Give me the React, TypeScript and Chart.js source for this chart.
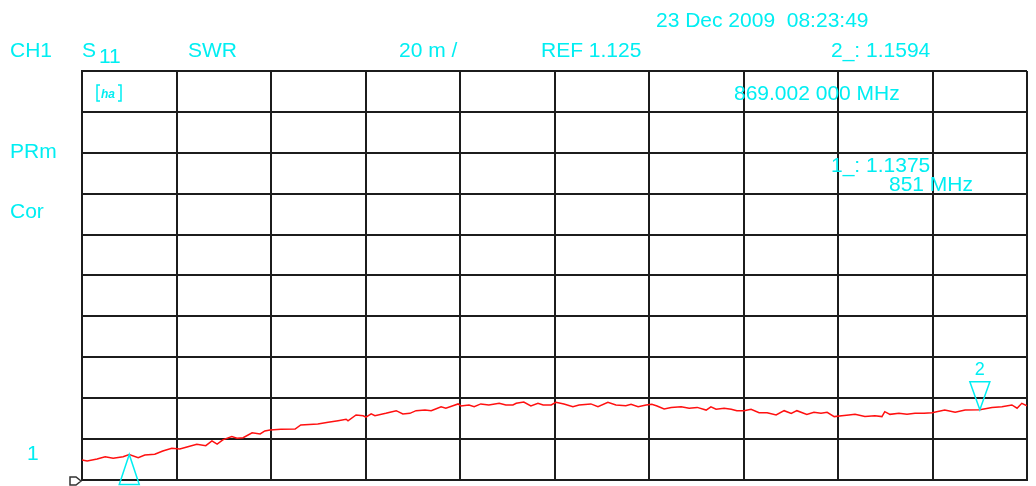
import { useEffect, useRef } from "react";
import { Chart, registerables } from "chart.js";

Chart.register(...registerables);

// Frequency (MHz) of each read trace point
const FREQ_MHZ = [
  850.0, 850.11, 850.32, 850.49, 850.66, 850.87, 851.0, 851.19, 851.33, 851.54,
  851.71, 851.9, 852.07, 852.24, 852.43, 852.62, 852.75, 852.86, 852.98, 853.17,
  853.28, 853.41, 853.6, 853.77, 853.87, 853.98, 854.21, 854.51, 854.63, 854.99,
  855.21, 855.42, 855.59, 855.63, 855.8, 855.95, 856.01, 856.12, 856.2, 856.43,
  856.65, 856.79, 856.94, 857.07, 857.26, 857.39, 857.47, 857.6, 857.7, 857.85,
  857.96, 858.02, 858.19, 858.3, 858.44, 858.61, 858.83, 858.97, 859.12, 859.19,
  859.35, 859.5, 859.65, 859.76, 859.93, 860.03, 860.2, 860.39, 860.52, 860.77,
  860.92, 861.13, 861.3, 861.51, 861.62, 861.77, 861.94, 862.06, 862.17, 862.32,
  862.47, 862.68, 862.85, 863.02, 863.21, 863.31, 863.42, 863.59, 863.74, 863.86,
  864.01, 864.16, 864.33, 864.5, 864.69, 864.86, 865.01, 865.13, 865.34, 865.49,
  865.64, 865.77, 865.92, 866.08, 866.23, 866.36, 866.57, 866.78, 866.93, 866.99,
  867.1, 867.29, 867.46, 867.63, 867.82, 867.99, 868.26, 868.48, 868.69, 869.002,
  869.26, 869.47, 869.68, 869.79, 869.89, 870.0,
];

// SWR value of each trace point
const SWR = [
  1.1348, 1.1343, 1.1353, 1.1364, 1.1356, 1.1364, 1.1375, 1.1359, 1.1372, 1.1376,
  1.1392, 1.1405, 1.1402, 1.1413, 1.1425, 1.1418, 1.1441, 1.1425, 1.1446, 1.1462,
  1.1454, 1.1457, 1.1481, 1.1475, 1.149, 1.1495, 1.1498, 1.1499, 1.1519, 1.1524,
  1.1532, 1.154, 1.1547, 1.1539, 1.1568, 1.1564, 1.1557, 1.1573, 1.1564, 1.1576,
  1.1589, 1.1573, 1.1576, 1.1589, 1.1592, 1.1589, 1.1596, 1.1608, 1.1601, 1.1613,
  1.1622, 1.1612, 1.1617, 1.1608, 1.1622, 1.1617, 1.1625, 1.1617, 1.1617, 1.1625,
  1.1631, 1.1612, 1.1625, 1.1617, 1.1617, 1.163, 1.1622, 1.1608, 1.1617, 1.1622,
  1.1608, 1.163, 1.1617, 1.1613, 1.162, 1.1608, 1.1617, 1.162, 1.1612, 1.1597,
  1.1605, 1.1608, 1.1601, 1.1605, 1.1592, 1.1608, 1.1596, 1.1601, 1.1596, 1.1589,
  1.1589, 1.1596, 1.1579, 1.1579, 1.1568, 1.1589, 1.1576, 1.1589, 1.1571, 1.1581,
  1.1576, 1.1581, 1.156, 1.1564, 1.1568, 1.1571, 1.156, 1.1564, 1.156, 1.1584,
  1.1571, 1.1576, 1.1571, 1.1576, 1.1576, 1.1579, 1.1592, 1.1581, 1.1592, 1.1594,
  1.1605, 1.1608, 1.1617, 1.1601, 1.1625, 1.1613,
];

const X_TICKS = [850, 852, 854, 856, 858, 860, 862, 864, 866, 868, 870];
const Y_TICKS = [1.125, 1.145, 1.165, 1.185, 1.205, 1.225, 1.245, 1.265, 1.285, 1.305, 1.325];
const REF_VALUE = 1.125;

const MARKER_FREQ = [851, 869.002];
const MARKER_SWR = [1.1375, 1.1594];
const MARKER_NAMES = ["1", "2"];

const TXT_DATE = "23 Dec 2009  08:23:49";
const TXT_CH = "CH1";
const TXT_S = "S";
const TXT_SUB = "11";
const TXT_FMT = "SWR";
const TXT_SCALE = "20 m /";
const TXT_REF = "REF 1.125";
const TXT_M2 = "2_: 1.1594";
const TXT_M2F = "869.002 000 MHz";
const TXT_M1 = "1_: 1.1375";
const TXT_M1F = "851 MHz";
const TXT_PRM = "PRm";
const TXT_COR = "Cor";
const TXT_REFPOS = "1";

const CYAN = "#00eef2";
const GRID = "#1c1c1c";
const FONT = '21px "Liberation Sans", Arial, sans-serif';

const overlay = {
  id: "overlay",
  afterDraw(chart: any) {
    const ctx = chart.ctx as CanvasRenderingContext2D;
    const xs = chart.scales.x;
    const ys = chart.scales.y;
    ctx.save();
    ctx.fillStyle = CYAN;
    ctx.font = FONT;
    ctx.textAlign = "left";
    ctx.textBaseline = "alphabetic";
    ctx.fillText(TXT_DATE, 656, 27);
    ctx.fillText(TXT_CH, 10, 57);
    ctx.fillText(TXT_S, 82, 57);
    ctx.fillText(TXT_SUB, 99, 63);
    ctx.fillText(TXT_FMT, 188, 57);
    ctx.fillText(TXT_SCALE, 399, 57);
    ctx.fillText(TXT_REF, 541, 57);
    ctx.fillText(TXT_M2, 831, 57);
    ctx.fillText(TXT_M2F, 734, 100);
    ctx.fillText(TXT_PRM, 10, 158);
    ctx.fillText(TXT_COR, 10, 218);
    ctx.fillText(TXT_M1, 831, 172);
    ctx.fillText(TXT_M1F, 889, 191);
    ctx.fillText(TXT_REFPOS, 27, 460);

    // hold icon
    ctx.strokeStyle = CYAN;
    ctx.lineWidth = 1.5;
    ctx.beginPath();
    ctx.moveTo(100, 85); ctx.lineTo(97, 85); ctx.lineTo(97, 101); ctx.lineTo(100, 101);
    ctx.moveTo(118, 85); ctx.lineTo(121, 85); ctx.lineTo(121, 101); ctx.lineTo(118, 101);
    ctx.stroke();
    ctx.font = 'italic bold 12px "Liberation Sans", Arial, sans-serif';
    ctx.fillText("ha", 101, 98);

    // markers
    ctx.lineWidth = 1.5;
    MARKER_FREQ.forEach((f, i) => {
      const px = xs.getPixelForValue(f);
      const py = ys.getPixelForValue(MARKER_SWR[i]);
      ctx.beginPath();
      if (i === 0) {
        ctx.moveTo(px, py);
        ctx.lineTo(px - 10, py + 30);
        ctx.lineTo(px + 10, py + 30);
      } else {
        ctx.moveTo(px, py);
        ctx.lineTo(px - 10, py - 28);
        ctx.lineTo(px + 10, py - 28);
      }
      ctx.closePath();
      ctx.stroke();
      ctx.font = '18px "Liberation Sans", Arial, sans-serif';
      ctx.textAlign = "center";
      if (i === 0) ctx.fillText(MARKER_NAMES[i], px, py + 48);
      else ctx.fillText(MARKER_NAMES[i], px, py - 35);
    });

    // reference position pointer
    const ry = ys.getPixelForValue(REF_VALUE);
    const lx = chart.chartArea.left;
    ctx.strokeStyle = "#333";
    ctx.lineWidth = 1.5;
    ctx.beginPath();
    ctx.moveTo(lx - 12, ry - 3);
    ctx.lineTo(lx - 6, ry - 3);
    ctx.lineTo(lx - 1, ry + 1);
    ctx.lineTo(lx - 6, ry + 5);
    ctx.lineTo(lx - 12, ry + 5);
    ctx.closePath();
    ctx.stroke();
    ctx.restore();
  },
};

export default function App() {
  const ref = useRef<HTMLCanvasElement | null>(null);
  useEffect(() => {
    if (!ref.current) return;
    const chart = new Chart(ref.current, {
      type: "line",
      data: {
        datasets: [
          {
            data: FREQ_MHZ.map((f, i) => ({ x: f, y: SWR[i] })),
            borderColor: "#ff1010",
            borderWidth: 1.5,
            pointRadius: 0,
            tension: 0,
            fill: false,
          },
        ],
      },
      options: {
        animation: false,
        responsive: false,
        devicePixelRatio: 1,
        layout: { padding: { left: 82, top: 71, right: 9, bottom: 6 } },
        plugins: { legend: { display: false }, tooltip: { enabled: false } },
        scales: {
          x: {
            type: "linear",
            min: 850,
            max: 870,
            afterBuildTicks: (s: any) => {
              s.ticks = X_TICKS.map((v) => ({ value: v }));
            },
            afterFit: (s: any) => {
              s.height = 0;
            },
            ticks: { display: false },
            grid: { color: GRID, lineWidth: 2, drawTicks: false },
            border: { display: true, color: GRID, width: 2 },
          },
          y: {
            type: "linear",
            min: 1.125,
            max: 1.325,
            afterBuildTicks: (s: any) => {
              s.ticks = Y_TICKS.map((v) => ({ value: v }));
            },
            afterFit: (s: any) => {
              s.width = 0;
            },
            ticks: { display: false },
            grid: { color: GRID, lineWidth: 2, drawTicks: false },
            border: { display: true, color: GRID, width: 2 },
          },
        },
      },
      plugins: [overlay],
    });
    return () => chart.destroy();
  }, []);
  return (
    <div style={{ position: "fixed", left: 0, top: 0, width: 1036, height: 486, background: "#fff" }}>
      <canvas ref={ref} width={1036} height={486} style={{ display: "block" }} />
    </div>
  );
}
